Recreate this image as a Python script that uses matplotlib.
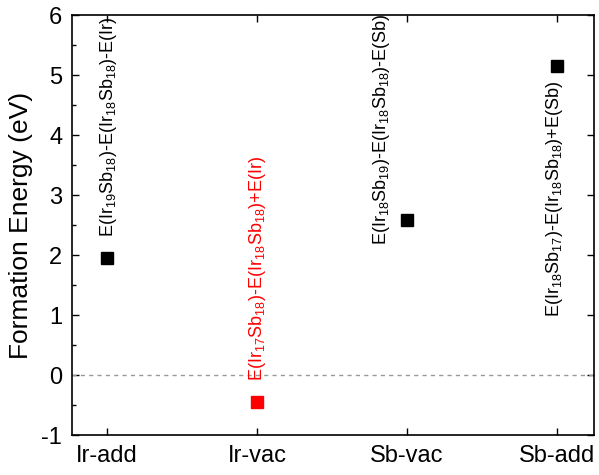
import matplotlib.pyplot as plt
from matplotlib.ticker import MultipleLocator

plt.rcParams['font.family'] = ['Liberation Sans', 'DejaVu Sans']
plt.rcParams['mathtext.fontset'] = 'custom'
plt.rcParams['mathtext.rm'] = 'Liberation Sans'
plt.rcParams['mathtext.it'] = 'Liberation Sans'
plt.rcParams['axes.unicode_minus'] = False

categories = ['Ir-add', 'Ir-vac', 'Sb-vac', 'Sb-add']
energies = [1.95, -0.45, 2.58, 5.15]
colors = ['black', 'red', 'black', 'black']
labels = [r'E(Ir$_{19}$Sb$_{18}$)-E(Ir$_{18}$Sb$_{18}$)-E(Ir)',
          r'E(Ir$_{17}$Sb$_{18}$)-E(Ir$_{18}$Sb$_{18}$)+E(Ir)',
          r'E(Ir$_{18}$Sb$_{19}$)-E(Ir$_{18}$Sb$_{18}$)-E(Sb)',
          r'E(Ir$_{18}$Sb$_{17}$)-E(Ir$_{18}$Sb$_{18}$)+E(Sb)']
label_x = [1.013, 2.005, 2.83, 3.98]
label_y = [2.3, -0.1, 2.17, 0.97]

fig = plt.figure(figsize=(5.99, 4.75), dpi=100)
ax = fig.add_axes([0.120, 0.084, 0.872, 0.884])

xs = [1, 2, 3, 4]
ax.axhline(0, color='#999999', lw=1, ls=(0, (3, 3)))
for x, e, c in zip(xs, energies, colors):
    ax.plot(x, e, 's', color=c, markersize=8.5)
for x, y, t, c in zip(label_x, label_y, labels, colors):
    ax.text(x, y, t, rotation=90, ha='center', va='bottom', color=c, fontsize=13)

ax.set_xlim(0.767, 4.247)
ax.set_ylim(-1, 6)
ax.set_xticks(xs)
ax.set_xticklabels(categories)
ax.yaxis.set_major_locator(MultipleLocator(1))
ax.yaxis.set_minor_locator(MultipleLocator(0.5))
ax.tick_params(which='both', direction='in', top=True, right=True, width=1)
ax.tick_params(which='major', length=5, labelsize=17, pad=7)
ax.tick_params(which='minor', length=3, right=False)
ax.set_ylabel('Formation Energy (eV)', fontsize=19, labelpad=6)
for s in ax.spines.values():
    s.set_linewidth(1.2)

fig.savefig('out.png', dpi=100)
